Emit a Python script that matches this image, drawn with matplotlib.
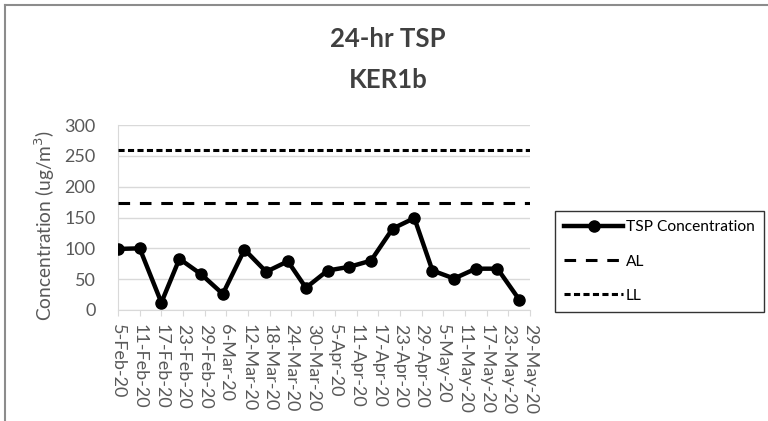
import datetime as dt
import matplotlib
matplotlib.use("Agg")
import matplotlib.pyplot as plt
from matplotlib.lines import Line2D

plt.rcParams['font.family'] = ['Lato', 'DejaVu Sans']

# sampling dates and 24-hr TSP readings (ug/m3)
sample_dates = ['5-Feb-20', '11-Feb-20', '17-Feb-20', '22-Feb-20', '28-Feb-20',
                '5-Mar-20', '11-Mar-20', '17-Mar-20', '23-Mar-20', '28-Mar-20',
                '3-Apr-20', '9-Apr-20', '15-Apr-20', '21-Apr-20', '27-Apr-20',
                '2-May-20', '8-May-20', '14-May-20', '20-May-20', '26-May-20']
tsp = [99, 100, 12, 83, 58, 26, 98, 62, 79, 36,
       64, 70, 80, 132, 149, 64, 51, 67, 67, 17]
action_level = 173
limit_level = 260

tick_labels = ['5-Feb-20', '11-Feb-20', '17-Feb-20', '23-Feb-20', '29-Feb-20',
               '6-Mar-20', '12-Mar-20', '18-Mar-20', '24-Mar-20', '30-Mar-20',
               '5-Apr-20', '11-Apr-20', '17-Apr-20', '23-Apr-20', '29-Apr-20',
               '5-May-20', '11-May-20', '17-May-20', '23-May-20', '29-May-20']
y_ticks = [0, 50, 100, 150, 200, 250, 300]


def to_date(s):
    return dt.datetime.strptime(s, '%d-%b-%y')


xs = [to_date(s) for s in sample_dates]
xt = [to_date(s) for s in tick_labels]

fig = plt.figure(figsize=(7.68, 4.21), dpi=100)
ax = fig.add_axes([118 / 768, 1 - 310 / 421, 412 / 768, 185 / 421])

grid_col = '#d9d9d9'
txt_col = '#595959'

ax.plot(xs, tsp, color='black', lw=3.2, marker='o', ms=8,
        label='TSP Concentration', zorder=4)
ax.plot([xt[0], xt[-1]], [action_level] * 2, color='black', lw=2.2,
        dashes=(3.8, 3.2), label='AL', zorder=3)
ax.plot([xt[0], xt[-1]], [limit_level] * 2, color='black', lw=2.2,
        dashes=(2.0, 1.1), label='LL', zorder=3)

ax.set_xlim(xt[0], xt[-1])
ax.set_ylim(0, 300)
ax.set_yticks(y_ticks)
ax.set_xticks(xt)
ax.set_xticklabels(tick_labels, rotation=-90, va='top', ha='center')
ax.yaxis.grid(True, color=grid_col, lw=1.0)
ax.set_axisbelow(True)

for s in ['top', 'right']:
    ax.spines[s].set_visible(False)
ax.spines['left'].set_color(grid_col)
ax.spines['bottom'].set_color(grid_col)
ax.tick_params(axis='y', length=0, pad=16, labelsize=13, labelcolor=txt_col)
ax.tick_params(axis='x', length=4, color=grid_col, pad=6, labelsize=13,
               labelcolor=txt_col)

fig.text(45 / 768, 1 - 226 / 421, 'Concentration (ug/m$^3$)', rotation=90,
         ha='center', va='center', fontsize=13.8, color=txt_col)
fig.text(388 / 768, 1 - 39 / 421, '24-hr TSP', ha='center', va='center',
         fontsize=18.5, fontweight='bold', color='#404040')
fig.text(388 / 768, 1 - 80 / 421, 'KER1b', ha='center', va='center',
         fontsize=18.5, fontweight='bold', color='#404040')

leg = fig.legend(loc='upper left', bbox_to_anchor=(555 / 768, 1 - 211 / 421),
                 fontsize=11.2, frameon=True, fancybox=False, handlelength=3.8,
                 labelspacing=1.3, borderpad=0.6, handletextpad=0.15,
                 borderaxespad=0)
leg.get_frame().set_edgecolor('black')
leg.get_frame().set_linewidth(1.0)

# outer chart border (only top and left visible)
fig.add_artist(Line2D([5 / 768, 1.0], [1 - 5 / 421] * 2, color='#8c8c8c', lw=1.5))
fig.add_artist(Line2D([5 / 768] * 2, [0.0, 1 - 5 / 421], color='#8c8c8c', lw=1.5))

fig.savefig('out.png', dpi=100)
